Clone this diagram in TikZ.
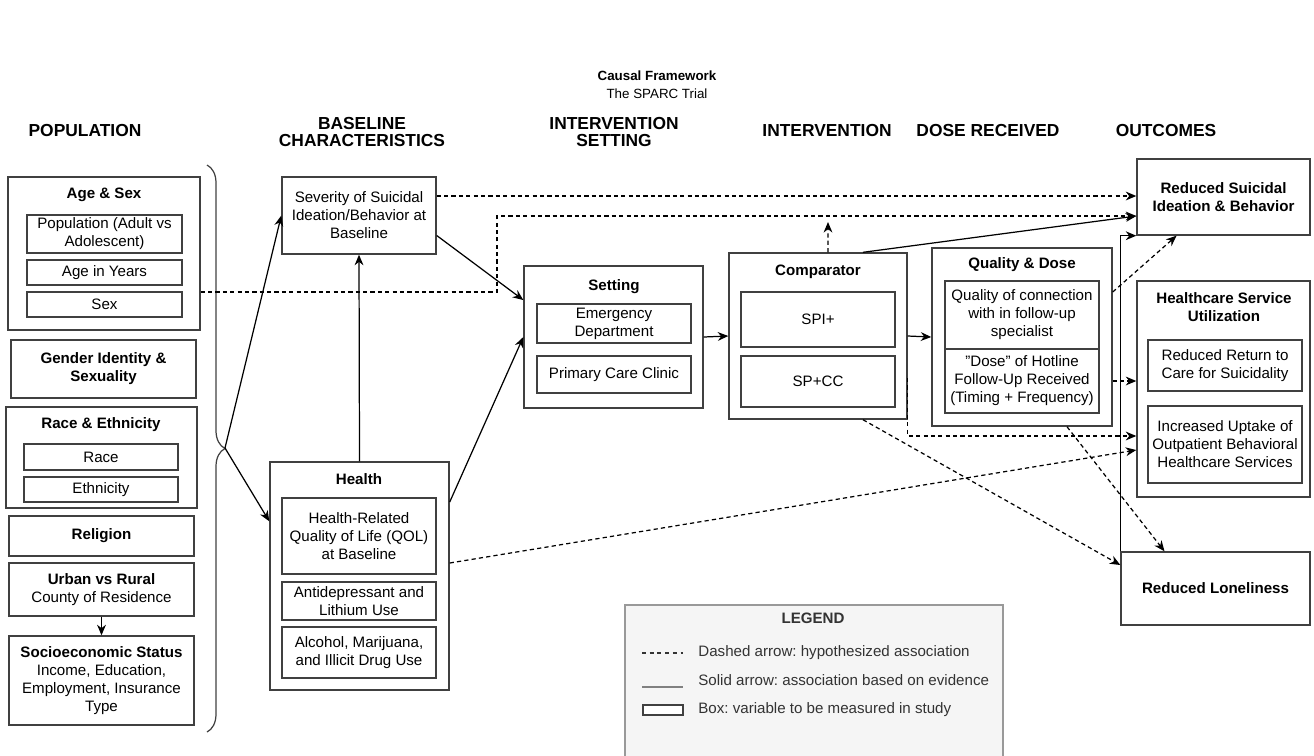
\documentclass[tikz,border=0pt]{standalone}
\usepackage{fontspec}
\setmainfont{Liberation Sans}
\usetikzlibrary{arrows.meta, decorations.pathreplacing}
\AtBeginDocument{\fontsize{8.6}{10.2}\selectfont\frenchspacing}

\tikzset{
  box/.style={draw=black!75, line width=0.8pt, inner sep=0pt, align=center},
  spot/.style n args={4}{at={({(#1+#3)/2},{(#2+#4)/2})},
    minimum width={(#3-#1)*0.02cm}, minimum height={(#4-#2)*0.02cm}},
  hdr/.style={font=\fontsize{9.9}{10.2}\selectfont\bfseries, align=center},
  ttl/.style={font=\bfseries, align=center},
  link/.style={->, line width=0.7pt},
  hypo/.style={link, dash pattern=on 2.4pt off 1.8pt},
}

\begin{document}
\begin{tikzpicture}[x=0.02cm, y=-0.02cm, >={Stealth[length=6pt,width=5pt]}]
  \useasboundingbox (0,0) rectangle (1314,755);

  %% ---- TITLE ----
  \node[font=\fontsize{7.6}{9}\selectfont\bfseries] (title) at (657,76) {Causal Framework};
  \node[font=\fontsize{7.6}{9}\selectfont] (subtitle) at (657,94) {The SPARC Trial};

  %% ---- COLUMN HEADERS ----
  \node[hdr] (hpop) at (85,131) {POPULATION};
  \node[hdr] (hbase) at (362,132) {BASELINE\\CHARACTERISTICS};
  \node[hdr] (hset) at (614,132) {INTERVENTION\\SETTING};
  \node[hdr] (hint) at (827,131) {INTERVENTION};
  \node[hdr] (hdose) at (988,131) {DOSE RECEIVED};
  \node[hdr] (hout) at (1166,131) {OUTCOMES};

  %% ---- LEGEND ----
  \draw[fill=black!4, draw=black!40, line width=0.8pt] (625,760) |- (1003,605) -- (1003,760);
  \node[font=\bfseries, text=black!80] (legT) at (813,618) {LEGEND};
  \coordinate (ld1) at (642,653);
  \coordinate (ld2) at (683,653);
  \draw[dash pattern=on 2.2pt off 2.2pt, line width=0.6pt, black!80] (ld1) -- (ld2);
  \node[anchor=west, text=black!80] (legD) at (693,653) {Dashed arrow: hypothesized association};
  \coordinate (ls1) at (642,687);
  \coordinate (ls2) at (683,687);
  \draw[line width=0.6pt, black!50] (ls1) -- (ls2);
  \node[anchor=west, text=black!80] (legS) at (693,680) {Solid arrow: association based on evidence};
  \draw[draw=black!75, line width=0.8pt, fill=white] (643,705) rectangle (683,715);
  \node[anchor=west, text=black!80] (legB) at (693,710) {Box: variable to be measured in study};

  %% ---- POPULATION ----
  \node[box, spot={8}{177}{200}{330}] (agesex) {};
  \node[ttl] (agesexT) at (104,195) {Age \& Sex};
  \node[box, spot={27}{215}{182}{253}] (popn) {Population (Adult vs\\Adolescent)};
  \node[box, spot={27}{260}{182}{285}] (ageyrs) {Age in Years};
  \node[box, spot={27}{292}{182}{317}] (sex) {Sex};

  \node[box, spot={11}{340}{196}{398}, font=\bfseries] (gender) {Gender Identity \&\\Sexuality};

  \node[box, spot={6}{407}{197}{508}] (raceeth) {};
  \node[ttl] (raceethT) at (101,425) {Race \& Ethnicity};
  \node[box, spot={24}{444}{178}{470}] (race) {Race};
  \node[box, spot={24}{477}{178}{502}] (ethn) {Ethnicity};

  \node[box, spot={9}{516}{194}{556}, font=\bfseries] (relig) {Religion};
  \node[box, spot={9}{563}{194}{616}] (urban) {\textbf{Urban vs Rural}\\County of Residence};
  \node[box, spot={9}{636}{194}{725}] (ses) {\textbf{Socioeconomic Status}\\Income, Education,\\Employment, Insurance\\Type};
  \draw[link] (urban.south) -- (ses.north);

  %% brace
  \draw[decorate, decoration={brace, amplitude=0.36cm}, line width=0.7pt, draw=black!75] (207,165) -- (207,732);
  \coordinate (tip) at (225,448);

  %% ---- BASELINE ----
  \node[box, spot={282}{177}{436}{254}] (sev) {Severity of Suicidal\\Ideation/Behavior at\\Baseline};

  \node[box, spot={270}{462}{449}{690}] (health) {};
  \node[ttl] (healthT) at (359,479) {Health};
  \node[box, spot={282}{498}{436}{574}] (qol) {Health-Related\\Quality of Life (QOL)\\at Baseline};
  \node[box, spot={282}{582}{436}{620}] (anti) {Antidepressant and\\Lithium Use};
  \node[box, spot={282}{627}{436}{678}] (alc) {Alcohol, Marijuana,\\and Illicit Drug Use};

  %% ---- SETTING ----
  \node[box, spot={524}{266}{703}{408}] (sett) {};
  \node[ttl] (settT) at (614,287) {Setting};
  \node[box, spot={537}{304}{691}{343}] (ed) {Emergency\\Department};
  \node[box, spot={537}{356}{691}{393}] (pcc) {Primary Care Clinic};

  %% ---- INTERVENTION ----
  \node[box, spot={729}{253}{907}{419}] (comp) {};
  \node[ttl] (compT) at (818,272) {Comparator};
  \node[box, spot={741}{292}{895}{347}] (spi) {SPI+};
  \node[box, spot={741}{356}{895}{407}] (spcc) {SP+CC};

  %% ---- DOSE ----
  \node[box, spot={932}{248}{1112}{426}] (qd) {};
  \node[ttl] (qdT) at (1022,265) {Quality \& Dose};
  \node[box, spot={945}{281}{1099}{349}] (qual) {Quality of connection\\with in follow-up\\specialist};
  \node[box, spot={945}{349}{1099}{413}] (dose) {"Dose" of Hotline\\Follow-Up Received\\(Timing + Frequency)};

  %% ---- OUTCOMES ----
  \node[box, spot={1137}{159}{1310}{235}, font=\bfseries] (rsib) {Reduced Suicidal\\Ideation \& Behavior};
  \node[box, spot={1137}{281}{1310}{497}] (hcsu) {};
  \node[ttl] (hcsuT) at (1224,307) {Healthcare Service\\Utilization};
  \node[box, spot={1148}{340}{1302}{391}] (rrc) {Reduced Return to\\Care for Suicidality};
  \node[box, spot={1148}{406}{1302}{483}] (inc) {Increased Uptake of\\Outpatient Behavioral\\Healthcare Services};
  \node[box, spot={1121}{552}{1310}{625}, font=\bfseries] (lone) {Reduced Loneliness};

  %% ---- SOLID ARROWS ----
  \draw[link] (tip) -- (sev.west);
  \draw[link] (tip) -- ([yshift=-1.2cm]health.north west);
  \draw[link] (health.north) -- (sev.south);
  \draw[link] ([yshift=-0.4cm]sev.east) -- ([yshift=0.74cm]sett.west);
  \draw[link] ([yshift=1.48cm]health.east) -- (sett.west);
  \draw[link] (sett.east) -- (comp.west);
  \draw[link] (comp.east) -- (qd.west);
  \draw[link] ([xshift=0.9cm]comp.north) -- ([yshift=-0.38cm]rsib.west);
  \draw[link] (lone.north west) |- (rsib.south west);

  %% ---- DASHED ARROWS ----
  \draw[hypo] ([yshift=0.39cm]sev.east) coordinate (s1) -- (s1 -| rsib.west);
  \coordinate (bend) at (497,216);
  \draw[hypo] ([yshift=-0.77cm]agesex.east) -| (bend) -- (bend -| rsib.west);
  \coordinate (modtip) at (828,222);
  \draw[hypo] ([xshift=0.2cm]comp.north) -- (modtip);
  \draw[hypo] ([yshift=0.9cm]qd.east) -- ([xshift=-0.94cm]rsib.south);
  \draw[hypo] (qd.east |- dose.east) -- (hcsu.west |- dose.east);
  \draw[hypo] ([yshift=-0.84cm]comp.east) |- ([yshift=-0.94cm]hcsu.west);
  \draw[hypo] ([yshift=0.26cm]health.east) -- ([yshift=-1.22cm]hcsu.west);
  \draw[hypo] ([xshift=0.9cm]comp.south) -- ([yshift=0.47cm]lone.west);
  \draw[hypo] ([xshift=0.9cm]qd.south) -- ([xshift=-1.02cm]lone.north);

\end{tikzpicture}
\end{document}
